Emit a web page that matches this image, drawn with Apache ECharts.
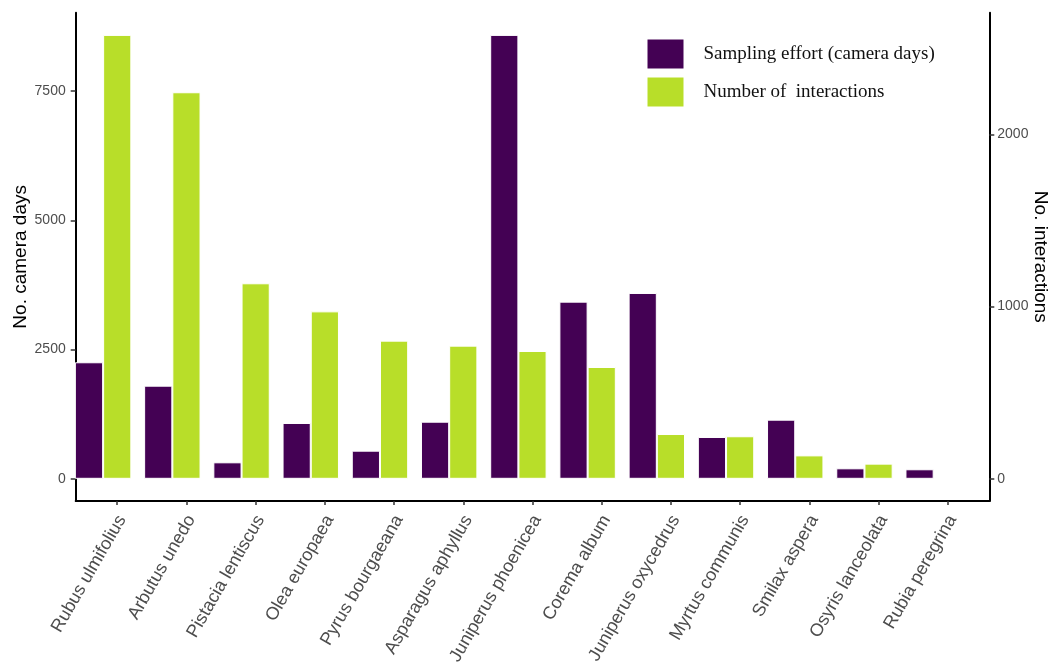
<!DOCTYPE html>
<html>
<head>
<meta charset="utf-8">
<script src="https://cdn.jsdelivr.net/npm/echarts@6/dist/echarts.min.js"></script>
<style>
  html, body { margin: 0; padding: 0; background: #fff; }
  #chart { width: 1051px; height: 666px; }
</style>
</head>
<body>
<div id="chart"></div>
<script>
// Plant species, ordered as on the x axis
const species = [
  'Rubus ulmifolius', 'Arbutus unedo', 'Pistacia lentiscus', 'Olea europaea',
  'Pyrus bourgaeana', 'Asparagus aphyllus', 'Juniperus phoenicea', 'Corema album',
  'Juniperus oxycedrus', 'Myrtus communis', 'Smilax aspera', 'Osyris lanceolata',
  'Rubia peregrina'
];
// Sampling effort per species (camera days, left axis)
const cameraDays = [2255, 1802, 319, 1080, 544, 1105, 8590, 3428, 3596, 809, 1144, 203, 184];
// Recorded interactions per species (right axis)
const interactions = [2577, 2244, 1135, 972, 802, 773, 742, 649, 260, 247, 136, 88, 0];
// Tick labels
const cameraTicks = [0, 2500, 5000, 7500];
const interactionTicks = [0, 1000, 2000];

const seriesNames = ['Sampling effort (camera days)', 'Number of  interactions'];
const colors = ['#440154', '#B8DE29'];

// 5% padding above and below each scale
function padRange(arr) {
  const mx = Math.max.apply(null, arr);
  return { min: -mx * 0.05, max: mx * 1.05 };
}
const leftRange = padRange(cameraDays);
const rightRange = padRange(interactions);

const sans = 'Liberation Sans, Arial, sans-serif';
const tickLabel = {
  color: '#4D4D4D', fontSize: 14, fontFamily: sans,
  formatter: v => String(v)
};

// Outer frame spans the full panel; inner grid holds the categories,
// inset by a tenth of a band at each side
const panelLeft = 75.7, panelRight = 989.3, panelTop = 12.7, panelBottom = 501;
const band = (panelRight - panelLeft) / (species.length + 0.2);
const innerLeft = panelLeft + 0.1 * band;
const innerRight = panelRight - 0.1 * band;
const barW = band * 0.4075;

const chart = echarts.init(document.getElementById('chart'), null, { renderer: 'canvas' });

chart.setOption({
  backgroundColor: '#ffffff',
  animation: false,
  color: colors,
  grid: [
    { left: panelLeft, width: panelRight - panelLeft, top: panelTop, height: panelBottom - panelTop,
      containLabel: false, outerBoundsMode: 'none' },
    { left: innerLeft, width: innerRight - innerLeft, top: panelTop, height: panelBottom - panelTop,
      containLabel: false, outerBoundsMode: 'none' }
  ],
  legend: {
    data: seriesNames,
    orient: 'vertical',
    left: 645.5,
    top: 37.5,
    padding: 0,
    itemWidth: 38,
    itemHeight: 31,
    itemGap: 5,
    icon: 'rect',
    textStyle: {
      fontFamily: 'Liberation Serif, Times New Roman, serif',
      fontSize: 19,
      color: '#111111',
      padding: [0, 0, 0, 14]
    }
  },
  xAxis: [
    {
      gridIndex: 0, type: 'value', min: 0, max: 1,
      axisLine: { show: true, onZero: false, lineStyle: { color: '#000', width: 2 } },
      axisTick: { show: false }, axisLabel: { show: false }, splitLine: { show: false }
    },
    {
      gridIndex: 1, type: 'category', data: species,
      axisLine: { show: false, onZero: false },
      axisTick: { show: true, alignWithLabel: true, length: 4, lineStyle: { color: '#333', width: 1.5 } },
      axisLabel: {
        interval: 0, rotate: 60, align: 'right', verticalAlign: 'top', margin: 6,
        padding: [0, 6, 0, 0],
        color: '#4D4D4D', fontSize: 18, fontFamily: sans
      },
      splitLine: { show: false }
    }
  ],
  yAxis: [
    {
      gridIndex: 0, type: 'value', position: 'left',
      min: leftRange.min, max: leftRange.max,
      name: 'No. camera days', nameLocation: 'middle', nameGap: 45, nameMoveOverlap: false,
      nameTextStyle: { color: '#000', fontSize: 19, fontFamily: sans },
      axisLine: { show: true, onZero: false, lineStyle: { color: '#000', width: 2 } },
      axisTick: { show: true, length: 5, customValues: cameraTicks, lineStyle: { color: '#333', width: 1.5 } },
      axisLabel: Object.assign({ margin: 10, customValues: cameraTicks }, tickLabel),
      splitLine: { show: false }
    },
    {
      gridIndex: 0, type: 'value', position: 'right',
      min: rightRange.min, max: rightRange.max,
      name: 'No. interactions', nameLocation: 'middle', nameGap: 41, nameRotate: -90, nameMoveOverlap: false,
      nameTextStyle: { color: '#000', fontSize: 19, fontFamily: sans },
      axisLine: { show: true, onZero: false, lineStyle: { color: '#000', width: 2 } },
      axisTick: { show: true, length: 5, customValues: interactionTicks, lineStyle: { color: '#333', width: 1.5 } },
      axisLabel: Object.assign({ margin: 8, customValues: interactionTicks }, tickLabel),
      splitLine: { show: false }
    },
    { gridIndex: 1, type: 'value', min: leftRange.min, max: leftRange.max, show: false },
    { gridIndex: 1, type: 'value', min: rightRange.min, max: rightRange.max, show: false }
  ],
  series: [
    {
      name: seriesNames[0], type: 'bar', xAxisIndex: 1, yAxisIndex: 2,
      data: cameraDays, barWidth: barW, barGap: '0%', clip: false,
      itemStyle: { color: colors[0], borderColor: '#ffffff', borderWidth: 1 }
    },
    {
      name: seriesNames[1], type: 'bar', xAxisIndex: 1, yAxisIndex: 3,
      data: interactions, barWidth: barW, barGap: '0%', clip: false,
      itemStyle: { color: colors[1], borderColor: '#ffffff', borderWidth: 1 }
    },
    {
      // empty slot to the right, so each pair sits left of its tick
      name: 'spacer', type: 'bar', xAxisIndex: 1, yAxisIndex: 3,
      data: [], barWidth: barW, barGap: '0%', silent: true
    }
  ]
});
</script>
</body>
</html>
